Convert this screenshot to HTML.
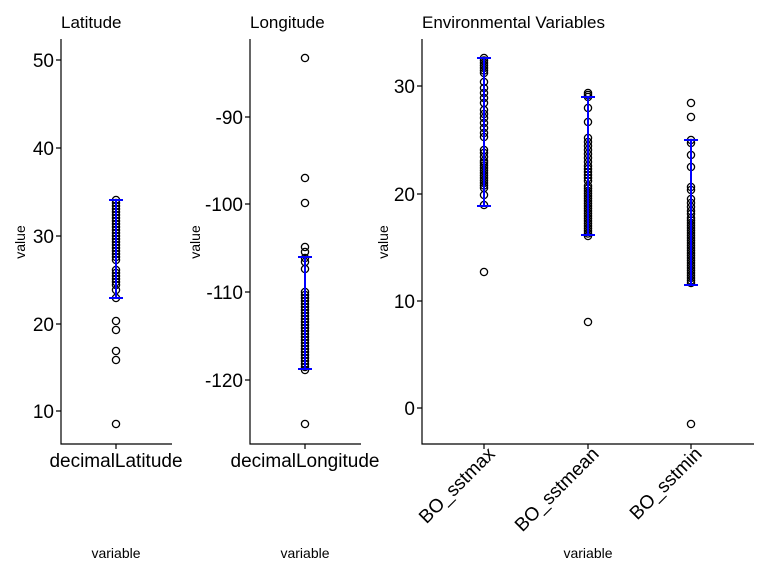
<!DOCTYPE html>
<html><head><meta charset="utf-8"><style>
html,body{margin:0;padding:0;background:#fff}
svg{display:block;font-family:"Liberation Sans",Arial,sans-serif}
</style></head><body>
<svg id="s" width="768" height="576" xmlns="http://www.w3.org/2000/svg">
<rect width="768" height="576" fill="#fff"/>
<g font-size="17" fill="#000">
<text x="61" y="28">Latitude</text>
<text x="250" y="28">Longitude</text>
<text x="422" y="28">Environmental Variables</text>
</g>
<g stroke="#000" stroke-width="1.2" fill="none">
<path d="M61,39V444H172M116,444v5"/>
<path d="M250,39V444H361M305,444v5"/>
<path d="M422,39V444H754M484,444v5M588,444v5M691,444v5"/>
<path d="M56,60h5M56,148h5M56,236h5M56,324h5M56,411h5"/>
<path d="M245,117h5M245,204h5M245,292h5M245,380h5"/>
<path d="M417,86h5M417,194h5M417,301h5M417,408h5"/>
</g>
<g font-size="19" fill="#000" text-anchor="end">
<text x="54" y="67">50</text><text x="54" y="155">40</text><text x="54" y="243">30</text><text x="54" y="331">20</text><text x="54" y="418">10</text>
<text x="243" y="124">-90</text><text x="243" y="211">-100</text><text x="243" y="299">-110</text><text x="243" y="387">-120</text>
<text x="415" y="93">30</text><text x="415" y="201">20</text><text x="415" y="308">10</text><text x="415" y="415">0</text>
</g>
<g font-size="19" fill="#000" text-anchor="middle">
<text x="116" y="467">decimalLatitude</text>
<text x="305" y="467">decimalLongitude</text>
</g>
<g font-size="19" fill="#000" text-anchor="end">
<text transform="translate(496,455) rotate(-45)">BO_sstmax</text>
<text transform="translate(600,455) rotate(-45)">BO_sstmean</text>
<text transform="translate(703,455) rotate(-45)">BO_sstmin</text>
</g>
<g font-size="14" fill="#000" text-anchor="middle">
<text x="116" y="558">variable</text>
<text x="305" y="558">variable</text>
<text x="588" y="558">variable</text>
<text transform="translate(25,242) rotate(-90)">value</text>
<text transform="translate(200,242) rotate(-90)">value</text>
<text transform="translate(388,242) rotate(-90)">value</text>
</g>
<g id="pts" fill="none" stroke="#000" stroke-width="1.3"></g>
<g id="eb" stroke="#0000ff" stroke-width="2" fill="none"></g>
</svg>
<script>
var P=document.getElementById('pts'),E=document.getElementById('eb'),ns='http://www.w3.org/2000/svg';
function c(x,y){var e=document.createElementNS(ns,'circle');e.setAttribute('cx',x);e.setAttribute('cy',y);e.setAttribute('r',3.6);P.appendChild(e);}
function col(x,y0,y1,step){for(var y=y0;y<=y1;y+=step)c(x,y);}
function eb(x,yt,yb){var p=document.createElementNS(ns,'path');p.setAttribute('d','M'+x+','+yt+'V'+yb+'M'+(x-7)+','+yt+'h14M'+(x-7)+','+yb+'h14');E.appendChild(p);}
// latitude
col(116,200,260,3);col(116,270,285,3);[290,298,321,330,351,360,424].forEach(function(y){c(116,y)});eb(116,200,298);
// longitude
col(305,292,371,3);[58,178,203,247,252,258,262,269,424].forEach(function(y){c(305,y)});eb(305,257,369);
// sstmax
col(484,58,75,2.5);[82,88,93,98,103,110,114,118,123,128,133,137,150,153,157,161].forEach(function(y){c(484,y)});col(484,163,190,2.5);c(484,195);c(484,205);c(484,272);eb(484,58,206);
col(588,93,97,2);[108,122,138,142,146,150,154,158,162].forEach(function(y){c(588,y)});col(588,166,182,3);col(588,186,236,2.5);c(588,322);eb(588,97,235);
[140,143,155,167,187,190,199,203,207,211,214].forEach(function(y){c(691,y)});col(691,218,285,2.5);[103,117,424].forEach(function(y){c(691,y)});eb(691,140,285);
</script>
</body></html>
